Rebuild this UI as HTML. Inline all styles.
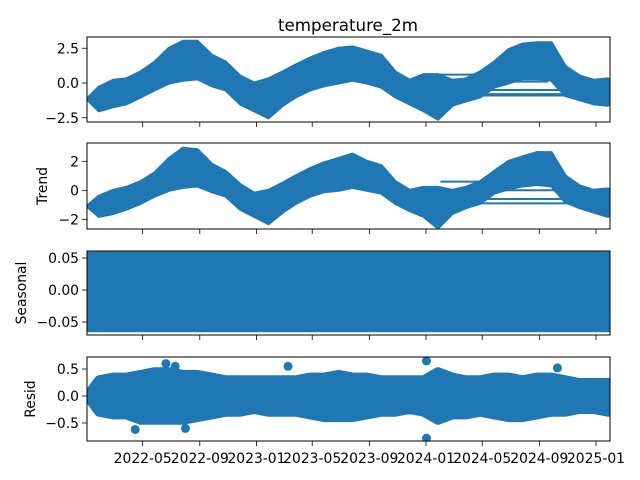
<!DOCTYPE html>
<html><head><meta charset="utf-8"><style>
body{margin:0;background:#fff}
svg{display:block;font-family:"DejaVu Sans","Liberation Sans",sans-serif}
</style></head><body>
<svg id="c" width="640" height="480" xmlns="http://www.w3.org/2000/svg"></svg>
<script>
const months=["2022-01","2022-02","2022-03","2022-04","2022-05","2022-06","2022-07","2022-08","2022-09","2022-10","2022-11","2022-12","2023-01","2023-02","2023-03","2023-04","2023-05","2023-06","2023-07","2023-08","2023-09","2023-10","2023-11","2023-12","2024-01","2024-02","2024-03","2024-04","2024-05","2024-06","2024-07","2024-08","2024-09","2024-10","2024-11","2024-12","2025-01","2025-02"];
const obsUpper=[-0.3,0.2,0.3,0.8,1.5,2.5,3.0,3.0,2.0,1.5,0.5,0.0,0.3,0.8,1.3,1.8,2.2,2.5,2.6,2.3,2.0,0.8,0.2,0.6,0.6,0.2,0.3,0.8,1.5,2.4,2.8,2.9,2.9,1.2,0.5,0.2,0.3,0.2];
const obsLower=[-2.0,-1.7,-1.5,-1.0,-0.5,0.0,0.2,0.3,-0.2,-0.5,-1.5,-2.0,-2.5,-1.6,-1.0,-0.5,-0.2,0.0,0.2,0.0,-0.3,-1.0,-1.5,-2.0,-2.6,-1.6,-1.3,-1.0,-0.3,0.0,0.3,0.3,0.2,-0.9,-1.2,-1.5,-1.6,-1.2];
const trendUpper=[-0.4,0.0,0.2,0.6,1.2,2.2,2.9,2.8,1.8,1.3,0.4,-0.2,0.0,0.5,1.0,1.5,1.9,2.2,2.5,2.0,1.7,0.6,0.0,0.2,0.2,0.0,0.2,0.6,1.3,2.0,2.3,2.6,2.6,1.0,0.3,0.0,0.1,0.0];
const trendLower=[-1.8,-1.6,-1.3,-0.9,-0.4,0.0,0.2,0.3,-0.1,-0.4,-1.3,-1.8,-2.3,-1.5,-0.9,-0.4,-0.1,0.0,0.2,0.0,-0.2,-0.9,-1.4,-1.8,-2.6,-1.6,-1.2,-0.9,-0.2,0.1,0.3,0.4,0.3,-0.8,-1.2,-1.5,-1.8,-1.3];
const obsLinks=[["2024-01-05","2024-10-15",0.6],["2024-01-10","2024-11-01",-0.5],["2024-01-15","2024-12-20",-0.8],["2024-01-20","2025-01-10",-0.9],["2024-02-01","2024-09-20",0.1]];
const trendLinks=[["2024-01-05","2025-01-20",0.0],["2024-01-10","2025-01-25",-0.6],["2024-01-15","2025-01-10",-0.9],["2024-02-01","2024-10-01",0.6]];
const seasonalRange=[-0.066,0.06];
const residUpper=[0.3,0.35,0.35,0.4,0.45,0.45,0.4,0.4,0.35,0.3,0.3,0.3,0.3,0.3,0.3,0.35,0.35,0.4,0.35,0.35,0.3,0.3,0.3,0.3,0.45,0.35,0.3,0.3,0.35,0.35,0.3,0.35,0.35,0.3,0.25,0.25,0.25,0.25];
const residLower=[-0.3,-0.35,-0.35,-0.45,-0.45,-0.45,-0.45,-0.4,-0.35,-0.3,-0.3,-0.25,-0.3,-0.3,-0.3,-0.35,-0.4,-0.4,-0.4,-0.35,-0.3,-0.3,-0.25,-0.3,-0.45,-0.35,-0.35,-0.3,-0.35,-0.4,-0.4,-0.35,-0.3,-0.3,-0.25,-0.25,-0.3,-0.25];
const residOutliers=[["2024-01-02",0.65],["2024-01-02",-0.78],["2022-06-20",0.6],["2022-04-15",-0.62],["2022-08-01",-0.6],["2023-03-10",0.55],["2024-10-10",0.52],["2022-07-10",0.55]];
const xTicks=["2022-05","2022-09","2023-01","2023-05","2023-09","2024-01","2024-05","2024-09","2025-01"];

const S=document.getElementById('c');const NS="http://www.w3.org/2000/svg";
function mk(t,a,p){const e=document.createElementNS(NS,t);for(const k in a)e.setAttribute(k,a[k]);(p||S).appendChild(e);return e;}
const X0=87,X1=610;
const tRef=Date.parse("2024-01-01"),pxDay=170/366,xRef=426;
function xs(d){const s=d.length===7?d+"-01":d;return xRef+(Date.parse(s)-tRef)/864e5*pxDay;}
function xm(i){return xs(months[i])+12;}
const C="#1f77b4";
const FS=13.9;
const panels=[
 {top:37,bot:122,y0:83,k:13.9,ticks:[2.5,0,-2.5],fmt:v=>v.toFixed(1),label:"",name:"observed",sw:3},
 {top:143,bot:229,y0:190.3,k:14.5,ticks:[2,0,-2],fmt:v=>v.toFixed(0),label:"Trend",name:"trend",sw:3},
 {top:251,bot:335,y0:290,k:640,ticks:[0.05,0,-0.05],fmt:v=>v.toFixed(2),label:"Seasonal",name:"seasonal",sw:2},
 {top:357,bot:441,y0:396,k:54,ticks:[0.5,0,-0.5],fmt:v=>v.toFixed(1),label:"Resid",name:"resid",sw:9}];
function ys(p,v){return p.y0-v*p.k;}
function band(p,up,lo,name){
  let pts=[];
  for(let i=0;i<months.length;i++)pts.push([Math.min(X1,Math.max(X0,xm(i))),ys(p,up[i])]);
  for(let i=months.length-1;i>=0;i--)pts.push([Math.min(X1,Math.max(X0,xm(i))),ys(p,lo[i])]);
  pts.unshift([X0,ys(p,(up[0]+lo[0])/2)]);
  const e=mk('polygon',{points:pts.map(q=>q.join(',')).join(' '),fill:C,stroke:C,'stroke-width':p.sw,'stroke-linejoin':'round'},p.g);
  
  
}
panels.forEach((p,pi)=>{
  const clip=mk('clipPath',{id:'cl'+pi});mk('rect',{x:X0,y:p.top,width:X1-X0,height:p.bot-p.top},clip);
  p.g=mk('g',{'clip-path':'url(#cl'+pi+')'});
  
  
});
band(panels[0],obsUpper,obsLower,'observed-series');
obsLinks.forEach(l=>{const e=mk('line',{x1:xs(l[0]),x2:xs(l[1]),y1:ys(panels[0],l[2]),y2:ys(panels[0],l[2]),stroke:C,'stroke-width':2},panels[0].g);
 
 });
band(panels[1],trendUpper,trendLower,'trend-series');
trendLinks.forEach(l=>{const e=mk('line',{x1:xs(l[0]),x2:xs(l[1]),y1:ys(panels[1],l[2]),y2:ys(panels[1],l[2]),stroke:C,'stroke-width':2},panels[1].g);
 
 });
{const p=panels[2];const e=mk('rect',{x:X0,y:ys(p,seasonalRange[1]),width:X1-X0,height:ys(p,seasonalRange[0])-ys(p,seasonalRange[1]),fill:C},p.g);
 
 }
band(panels[3],residUpper,residLower,'resid-series');
residOutliers.forEach(o=>{const e=mk('circle',{cx:xs(o[0]),cy:ys(panels[3],o[1]),r:4.5,fill:C},panels[3].g);
 
 });
panels.forEach((p,pi)=>{
  const f=mk('rect',{x:X0,y:p.top,width:X1-X0,height:p.bot-p.top,fill:'none',stroke:'#000','stroke-width':1});
  
  
  p.ticks.forEach(v=>{const y=ys(p,v);mk('line',{x1:X0-5,x2:X0,y1:y,y2:y,stroke:'#000','stroke-width':0.8});
    const t=mk('text',{x:X0-8,y:y+5,'text-anchor':'end','font-size':FS,fill:'#000'});t.textContent=p.fmt(v).replace('-','\u2212');
    
    });
  xTicks.forEach(d=>{mk('line',{x1:xs(d),x2:xs(d),y1:p.bot,y2:p.bot+5,stroke:'#000','stroke-width':0.8});});
  if(p.label){const t=mk('text',{x:0,y:0,'text-anchor':'middle','font-size':FS,transform:`translate(${pi==1?47:pi==2?26:35},${(p.top+p.bot)/2}) rotate(-90)`});t.textContent=p.label;
    
    }
});
xTicks.forEach(d=>{const t=mk('text',{x:xs(d),y:463,'text-anchor':'middle','font-size':FS});t.textContent=d;
  
  });
const ti=mk('text',{x:348,y:31,'text-anchor':'middle','font-size':16.7});ti.textContent='temperature_2m';


</script>
</body></html>
